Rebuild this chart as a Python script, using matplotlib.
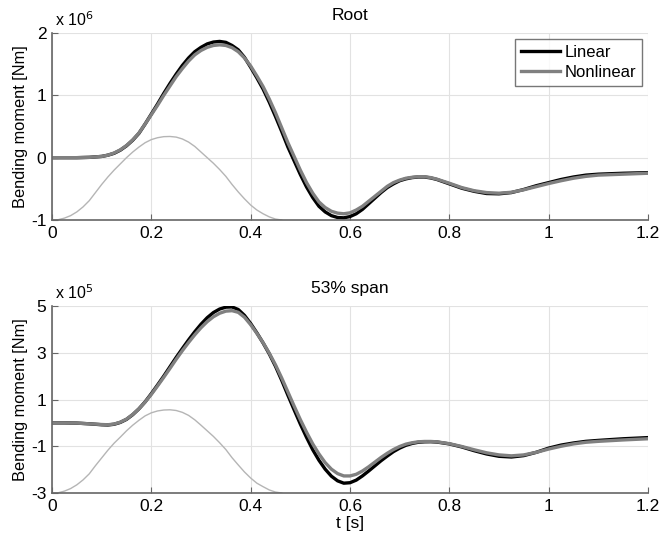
import matplotlib
matplotlib.use("Agg")
import matplotlib.pyplot as plt

plt.rcParams['font.family'] = ['Liberation Sans', 'DejaVu Sans']
plt.rcParams['axes.unicode_minus'] = False

# ---- Root (x 10^6 Nm) ----
t_root = [0, 0.025, 0.05, 0.075, 0.1, 0.1125, 0.125, 0.1375, 0.15, 0.1625, 0.175, 0.1875,
          0.2, 0.2125, 0.225, 0.2375, 0.25, 0.2625, 0.275, 0.2875, 0.3, 0.3125, 0.325, 0.3375,
          0.35, 0.3625, 0.375, 0.3875, 0.4, 0.4125, 0.425, 0.4375, 0.45, 0.4625, 0.475, 0.4875,
          0.5, 0.5125, 0.525, 0.5375, 0.55, 0.5625, 0.575, 0.5875, 0.6, 0.6125, 0.625, 0.6375,
          0.65, 0.6625, 0.675, 0.6875, 0.7, 0.7125, 0.725, 0.7375, 0.75, 0.7625, 0.775, 0.8,
          0.825, 0.85, 0.875, 0.9, 0.925, 0.95, 0.975, 1.0, 1.025, 1.05, 1.075, 1.1, 1.15, 1.2]
root_linear = [0, 0, 0, 0.005, 0.02, 0.04, 0.07, 0.12, 0.19, 0.28, 0.39, 0.54,
               0.7, 0.86, 1.03, 1.19, 1.34, 1.48, 1.6, 1.7, 1.77, 1.825, 1.855, 1.865,
               1.85, 1.8, 1.73, 1.61, 1.45, 1.28, 1.1, 0.89, 0.66, 0.42, 0.17, -0.05,
               -0.27, -0.47, -0.64, -0.78, -0.87, -0.93, -0.96, -0.965, -0.945, -0.9, -0.83, -0.74,
               -0.65, -0.56, -0.48, -0.42, -0.37, -0.34, -0.32, -0.31, -0.31, -0.325, -0.35, -0.42,
               -0.49, -0.54, -0.575, -0.58, -0.56, -0.51, -0.45, -0.4, -0.35, -0.31, -0.28, -0.265, -0.25, -0.24]
root_nonlinear = [0, 0, 0, 0.005, 0.02, 0.04, 0.075, 0.125, 0.195, 0.285, 0.395, 0.54,
                  0.69, 0.84, 1.0, 1.15, 1.3, 1.43, 1.55, 1.65, 1.72, 1.77, 1.8, 1.81,
                  1.8, 1.765, 1.7, 1.6, 1.47, 1.31, 1.14, 0.94, 0.72, 0.48, 0.24, 0.02,
                  -0.2, -0.4, -0.57, -0.71, -0.8, -0.86, -0.89, -0.9, -0.885, -0.84, -0.78, -0.7,
                  -0.62, -0.54, -0.46, -0.4, -0.36, -0.33, -0.315, -0.305, -0.305, -0.32, -0.345, -0.41,
                  -0.48, -0.53, -0.56, -0.57, -0.555, -0.515, -0.465, -0.415, -0.37, -0.33, -0.3, -0.28, -0.265, -0.25]

t_gust = [0, 0.0125, 0.025, 0.0375, 0.05, 0.0625, 0.075, 0.0875, 0.1, 0.1125, 0.125, 0.1375,
          0.15, 0.1625, 0.175, 0.1875, 0.2, 0.2125, 0.225, 0.2375, 0.25, 0.2625, 0.275, 0.2875,
          0.3, 0.3125, 0.325, 0.3375, 0.35, 0.3625, 0.375, 0.3875, 0.4, 0.4125, 0.425, 0.4375,
          0.45, 0.4625]
root_gust = [-1.0, -0.995, -0.97, -0.93, -0.87, -0.79, -0.69, -0.56, -0.43, -0.31, -0.2, -0.1,
             0.0, 0.09, 0.17, 0.24, 0.29, 0.32, 0.337, 0.34, 0.33, 0.3, 0.25, 0.18,
             0.09, 0.0, -0.09, -0.19, -0.3, -0.43, -0.55, -0.66, -0.76, -0.84, -0.9, -0.95,
             -0.985, -1.0]

# ---- 53% span (x 10^5 Nm) ----
t_span = [0, 0.025, 0.05, 0.075, 0.1, 0.1125, 0.125, 0.1375, 0.15, 0.1625, 0.175, 0.1875,
          0.2, 0.2125, 0.225, 0.2375, 0.25, 0.2625, 0.275, 0.2875, 0.3, 0.3125, 0.325, 0.3375,
          0.35, 0.3625, 0.375, 0.3875, 0.4, 0.4125, 0.425, 0.4375, 0.45, 0.4625, 0.475, 0.4875,
          0.5, 0.5125, 0.525, 0.5375, 0.55, 0.5625, 0.575, 0.5875, 0.6, 0.6125, 0.625, 0.6375,
          0.65, 0.6625, 0.675, 0.6875, 0.7, 0.7125, 0.725, 0.7375, 0.75, 0.7625, 0.775, 0.8,
          0.825, 0.85, 0.875, 0.9, 0.925, 0.95, 0.975, 1.0, 1.025, 1.05, 1.075, 1.1, 1.15, 1.2]
span_linear = [0, 0, -0.01, -0.04, -0.08, -0.09, -0.06, 0.02, 0.15, 0.35, 0.6, 0.9,
               1.25, 1.62, 2.0, 2.4, 2.8, 3.18, 3.55, 3.9, 4.22, 4.5, 4.72, 4.87,
               4.95, 4.96, 4.85, 4.6, 4.25, 3.85, 3.42, 2.95, 2.42, 1.82, 1.18, 0.56,
               -0.05, -0.62, -1.15, -1.6, -1.98, -2.28, -2.48, -2.58, -2.56, -2.45, -2.27, -2.06,
               -1.84, -1.62, -1.42, -1.23, -1.08, -0.96, -0.88, -0.83, -0.81, -0.805, -0.82, -0.9,
               -1.03, -1.19, -1.33, -1.43, -1.46, -1.4, -1.26, -1.08, -0.95, -0.86, -0.79, -0.75, -0.68, -0.63]
span_nonlinear = [0, 0, -0.01, -0.04, -0.07, -0.08, -0.05, 0.03, 0.16, 0.36, 0.6, 0.89,
                  1.22, 1.58, 1.95, 2.33, 2.72, 3.09, 3.44, 3.77, 4.07, 4.33, 4.54, 4.69,
                  4.78, 4.8, 4.73, 4.52, 4.2, 3.83, 3.43, 2.98, 2.48, 1.92, 1.32, 0.72,
                  0.14, -0.4, -0.9, -1.33, -1.7, -1.98, -2.17, -2.27, -2.27, -2.2, -2.06, -1.88,
                  -1.68, -1.48, -1.3, -1.14, -1.01, -0.91, -0.85, -0.81, -0.795, -0.795, -0.81, -0.89,
                  -1.01, -1.15, -1.28, -1.37, -1.41, -1.37, -1.26, -1.12, -1.0, -0.9, -0.83, -0.79, -0.73, -0.68]
span_gust = [-3.0, -2.99, -2.92, -2.81, -2.65, -2.44, -2.18, -1.83, -1.5, -1.17, -0.87, -0.61,
             -0.34, -0.1, 0.11, 0.3, 0.43, 0.51, 0.55, 0.56, 0.53, 0.45, 0.32, 0.13,
             -0.1, -0.34, -0.58, -0.85, -1.14, -1.49, -1.8, -2.1, -2.36, -2.58, -2.73, -2.87,
             -2.96, -3.0]

x_ticks = [0, 0.2, 0.4, 0.6, 0.8, 1.0, 1.2]
x_ticklabels = ['0', '0.2', '0.4', '0.6', '0.8', '1', '1.2']
root_yticks = [-1, 0, 1, 2]
span_yticks = [-3, -1, 1, 3, 5]

fig = plt.figure(figsize=(6.6, 5.39), dpi=100)
ax1 = fig.add_axes([52/660, 1-220/539, 596/660, 187/539])
ax2 = fig.add_axes([52/660, 1-493/539, 596/660, 187/539])

def style(ax, yticks, ylim, exp, title):
    ax.set_xlim(0, 1.2)
    ax.set_ylim(*ylim)
    ax.set_xticks(x_ticks)
    ax.set_xticklabels(x_ticklabels)
    ax.set_yticks(yticks)
    ax.set_yticklabels([str(v) for v in yticks])
    ax.grid(True, color='#e2e2e2', linewidth=0.8)
    ax.set_axisbelow(True)
    for s in ['top', 'right']:
        ax.spines[s].set_visible(False)
    for s in ['left', 'bottom']:
        ax.spines[s].set_color('#666666')
        ax.spines[s].set_linewidth(1.2)
    ax.tick_params(direction='in', length=4, color='#666666', labelsize=12.5, pad=4)
    ax.set_ylabel('Bending moment [Nm]', fontsize=11.8, labelpad=2)
    ax.set_title(title, fontsize=12.5, pad=9)
    ax.text(0.005, 1.02, r'x 10$^{%d}$' % exp, transform=ax.transAxes, fontsize=11.5,
            ha='left', va='bottom')

ax1.plot(t_gust, root_gust, color='#b5b5b5', lw=1.0)
ax1.plot(t_root, root_linear, color='black', lw=2.4, label='Linear')
ax1.plot(t_root, root_nonlinear, color='#808080', lw=2.4, label='Nonlinear')
style(ax1, root_yticks, (-1, 2), 6, 'Root')
leg = ax1.legend(loc='upper right', fontsize=12, frameon=True, fancybox=False,
                 handlelength=2.3, handletextpad=0.3, borderpad=0.35, labelspacing=0.3,
                 borderaxespad=0, bbox_to_anchor=(0.99, 0.968))
leg.get_frame().set_edgecolor('#555555')
leg.get_frame().set_linewidth(1.0)

ax2.plot(t_gust, span_gust, color='#b5b5b5', lw=1.0)
ax2.plot(t_span, span_linear, color='black', lw=2.4)
ax2.plot(t_span, span_nonlinear, color='#808080', lw=2.4)
style(ax2, span_yticks, (-3, 5), 5, '53% span')
ax2.set_xlabel('t [s]', fontsize=12.5, labelpad=2)

fig.savefig('out.png', dpi=100)
